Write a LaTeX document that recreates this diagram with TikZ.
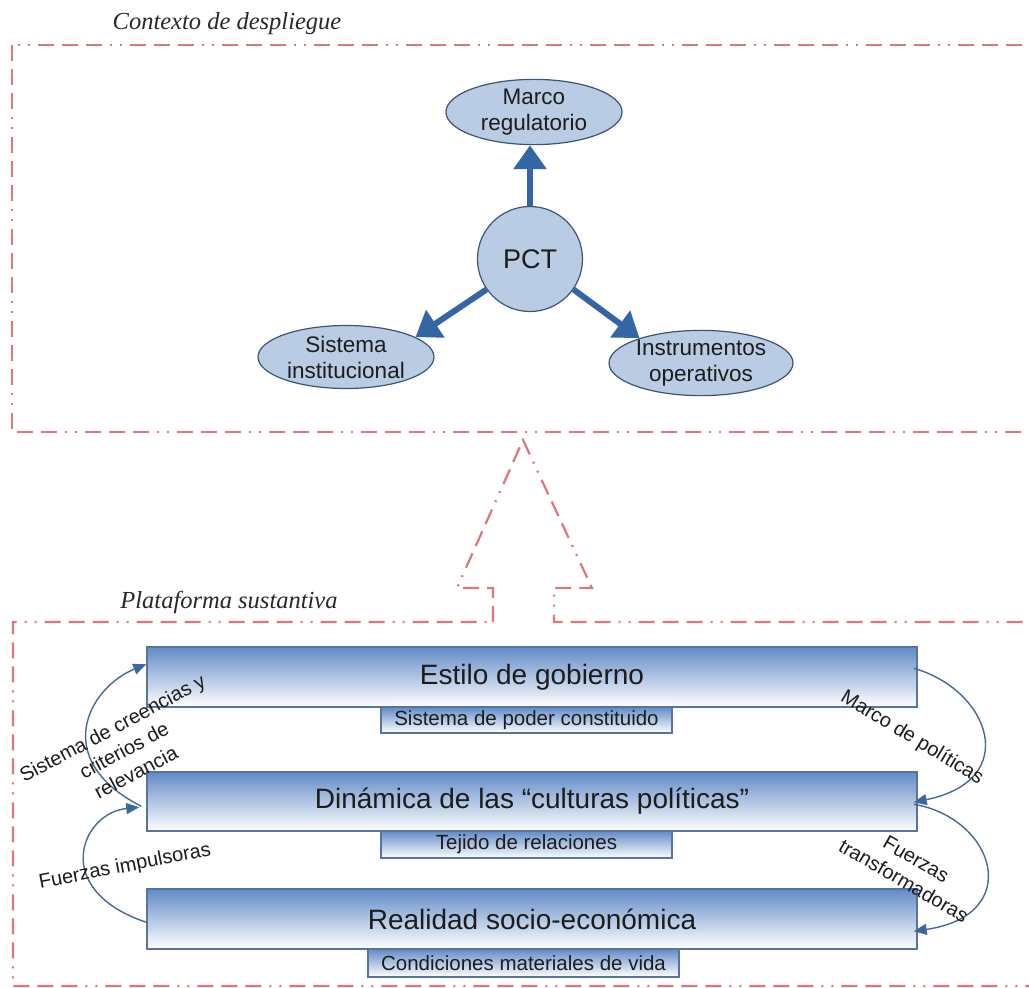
\documentclass[tikz,border=0pt]{standalone}
\usepackage{fontspec}
\setmainfont{Liberation Serif}
\setsansfont{Liberation Sans}
\usetikzlibrary{shapes.geometric,arrows.meta,calc}
\definecolor{framec}{RGB}{224,118,124}
\definecolor{ellfill}{RGB}{185,204,228}
\definecolor{ellline}{RGB}{62,84,115}
\definecolor{bigarrow}{RGB}{52,101,164}
\definecolor{boxtop}{RGB}{98,139,199}
\definecolor{boxline}{RGB}{88,116,155}
\definecolor{txt}{RGB}{28,28,28}
\definecolor{thinarrow}{RGB}{72,104,150}
\begin{document}
\begin{tikzpicture}[x=1pt,y=-1pt,
  framel/.style={draw=framec,line width=2.2pt,dash pattern=on 16pt off 8pt on 16pt off 8pt on 16pt off 8pt on 2pt off 8pt on 2pt off 8pt},
  ell/.style={ellipse,draw=ellline,line width=1.2pt,fill=ellfill,minimum width=176pt,minimum height=63pt,inner sep=0pt,align=center,text=txt,font=\sffamily\fontsize{22.5}{26}\selectfont},
  circ/.style={circle,draw=ellline,line width=1.2pt,fill=ellfill,minimum size=105pt,inner sep=0pt,text=txt,font=\sffamily\fontsize{27}{30}\selectfont},
  bigarr/.style={draw=bigarrow,line width=6pt,-{Triangle[length=24pt,width=32pt,fill=bigarrow]}},
  thinarr/.style={draw=thinarrow,line width=1.4pt,-{Triangle[length=13pt,width=11pt,fill=bigarrow]}},
  mainbox/.style={draw=boxline,line width=1.5pt,top color=boxtop,bottom color=white,minimum width=770pt,inner sep=0pt,text=txt,font=\sffamily\fontsize{28}{32}\selectfont},
  subbox/.style={draw=boxline,line width=1.5pt,top color=boxtop,bottom color=white,inner sep=0pt,text=txt,font=\sffamily\fontsize{20.5}{24}\selectfont},
  lbl/.style={text=txt,inner sep=0pt,font=\sffamily\fontsize{20}{25}\selectfont},
  ttl/.style={text={rgb,255:red,40;green,40;blue,40},inner sep=0pt,font=\itshape\fontsize{24.5}{28}\selectfont}
]
\useasboundingbox (0,0) rectangle (1029,988);
\fill[white] (0,0) rectangle (1029,988);
\begin{scope}
  \clip (0,0) rectangle (1029,988);
  \draw[framel] (12,45) rectangle (1050,432);
  \draw[framel] (493,622) -- (493,588) -- (457,588) -- (523,440) -- (592,588) -- (554,588) -- (554,622) -- (1050,622) -- (1050,986) -- (13,986) -- (13,622) -- cycle;
\end{scope}

\node[ttl] (t1) at (227,24) {Contexto de despliegue};
\node[ttl] (t2) at (229,602) {Plataforma sustantiva};

\node[ell] (marco) at (534,112) {Marco\\regulatorio};
\node[circ] (pct) at (530,259) {PCT};
\node[ell] (sis) at (346,357) {Sistema\\institucional};
\node[ell] (ins) at (701,363) {Instrumentos\\operativos};

\draw[bigarr] (pct.north) -- (pct.north |- marco.south);
\draw[bigarr] (pct.215) -- (sis.16);
\draw[bigarr] (pct.-35) -- (ins.158);

\node[mainbox,minimum height=60pt] (b1) at (532,677) {Estilo de gobierno};
\node[mainbox,minimum height=59pt] (b2) at (532,801.5) {Dinámica de las “culturas políticas”};
\node[mainbox,minimum height=60pt] (b3) at (532,919) {Realidad socio-económica};
\node[subbox,minimum width=291pt,minimum height=26pt] (s1) at (526.5,720) {Sistema de poder constituido};
\node[subbox,minimum width=291pt,minimum height=27pt] (s2) at (526.5,844.5) {Tejido de relaciones};
\node[subbox,minimum width=311pt,minimum height=28pt] (s3) at (523.5,963) {Condiciones materiales de vida};

\draw[thinarr] ($(b2.north west)+(-5,35)$) .. controls (50,760) and (88,688) .. ($(b1.north west)+(0,18)$);
\draw[thinarr] ($(b3.north west)+(0,34)$) .. controls (50,890) and (81,813) .. ($(b2.north west)+(-7,36)$);
\draw[thinarr] ($(b1.north east)+(-4,22)$) .. controls (990,690) and (1022,780) .. ($(b2.north east)+(-4,31)$);
\draw[thinarr] ($(b2.north east)+(-4,33)$) .. controls (995,818) and (1025,915) .. ($(b3.north east)+(-4,43)$);

\node[lbl,rotate=28,align=center] (l1) at (124,750) {Sistema de creencias y\\criterios de\\relevancia};
\node[lbl,rotate=11] (l2) at (125,867) {Fuerzas impulsoras};
\node[lbl,rotate=-31] (l3) at (912,738) {Marco de políticas};
\node[lbl,rotate=-30,align=center] (l4) at (910,870) {Fuerzas\\transformadoras};
\end{tikzpicture}
\end{document}
